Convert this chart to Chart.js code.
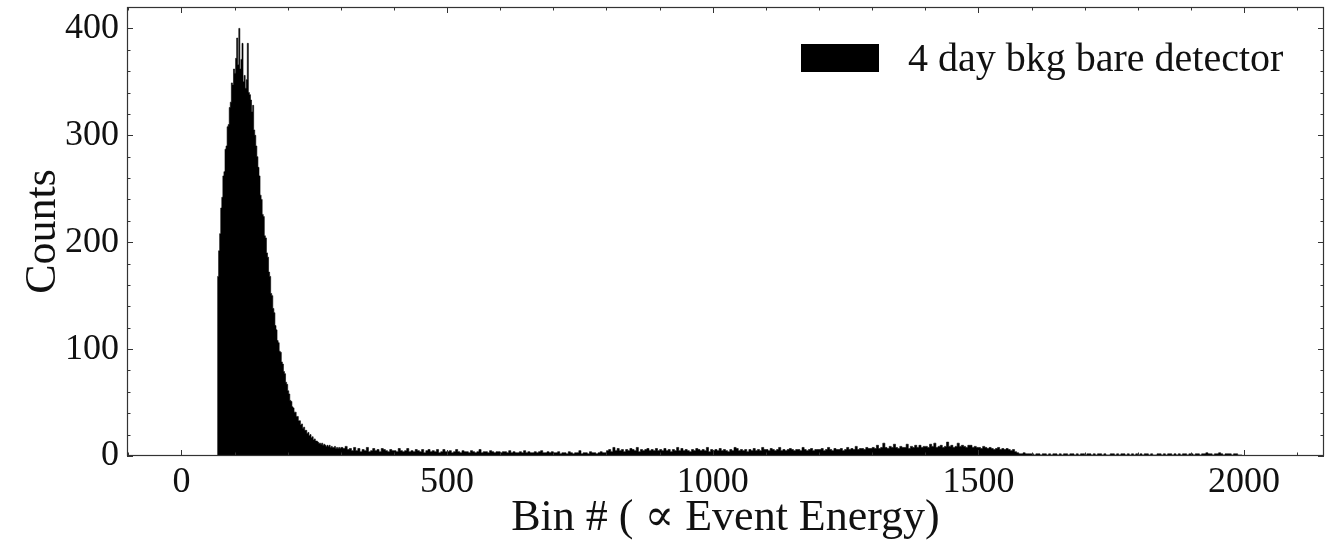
<!DOCTYPE html>
<html>
<head>
<meta charset="utf-8">
<script src="https://cdn.jsdelivr.net/npm/chart.js@4.4.1/dist/chart.umd.min.js"></script>
<style>
  html, body { margin: 0; padding: 0; background: #fff; }
  #wrap { width: 1340px; height: 547px; position: relative; }
</style>
</head>
<body>
<div id="wrap"><canvas id="spectrum"></canvas></div>
<script>
'use strict';

// ── Data ──────────────────────────────────────────────────────
const seriesLabel = '4 day bkg bare detector';
const xTitle = 'Bin # ( \u221D Event Energy)';
const yTitle = 'Counts';

// main peak: bins 68..299, 2 bins per value
const peakStart = 68;
const peakWidth = 2;
const peakCounts = [
  168, 192, 208, 232, 242, 262, 266, 287, 290, 308,
  310, 326, 331, 349, 347, 362, 358, 372, 391, 366,
  400, 362, 371, 386, 350, 356, 344, 352, 386, 340,
  338, 333, 322, 328, 305, 300, 290, 280, 270, 262,
  244, 240, 226, 224, 206, 204, 190, 186, 172, 168,
  152, 150, 138, 134, 122, 118, 108, 106, 98, 97,
  88, 86, 79, 77, 69, 67, 61, 58, 52, 51,
  46, 45, 41, 41, 37, 37, 33, 33, 29, 30,
  26, 27, 24, 24, 21, 22, 19, 20, 17, 18,
  15, 16, 14, 14, 13, 12, 12, 11, 12, 10,
  11, 10, 9, 10, 9, 10, 8, 9, 8, 8,
  9, 7, 8, 7, 8, 7,
];

// flat tail: bins 300..1999, 4 bins per value (one row = 100 bins)
const tailStart = 300;
const tailWidth = 4;
const tailCounts = [
  8, 7, 9, 6, 7, 5, 8, 5, 7, 4, 6, 5, 8, 4, 5, 7, 5, 6, 4, 7, 6, 5, 4, 6, 5,
  5, 4, 7, 5, 4, 5, 7, 4, 5, 4, 6, 5, 4, 6, 3, 5, 6, 4, 5, 4, 6, 3, 4, 6, 4,
  4, 5, 3, 4, 6, 4, 3, 5, 4, 4, 3, 5, 4, 3, 4, 6, 3, 4, 4, 3, 5, 4, 3, 4, 4,
  3, 4, 4, 3, 5, 3, 4, 3, 3, 4, 3, 5, 3, 4, 3, 3, 4, 3, 4, 5, 3, 3, 4, 3, 4,
  3, 3, 4, 2, 3, 3, 2, 4, 3, 2, 3, 3, 5, 2, 3, 3, 2, 4, 3, 3, 2, 3, 4, 3, 3,
  5, 6, 4, 8, 5, 7, 5, 6, 4, 6, 5, 7, 6, 5, 8, 4, 6, 5, 6, 7, 5, 6, 5, 7, 5,
  6, 5, 7, 5, 6, 4, 6, 5, 8, 5, 7, 5, 6, 5, 4, 6, 5, 7, 6, 5, 6, 5, 8, 4, 6,
  5, 6, 5, 7, 5, 6, 5, 4, 6, 5, 8, 7, 5, 6, 5, 6, 4, 6, 5, 7, 5, 6, 5, 8, 6,
  6, 5, 7, 6, 5, 6, 8, 5, 6, 5, 6, 7, 6, 5, 6, 6, 5, 8, 6, 5, 6, 7, 5, 6, 6,
  6, 7, 5, 6, 8, 6, 5, 7, 6, 6, 7, 5, 6, 8, 6, 7, 6, 9, 6, 7, 7, 6, 8, 7, 7,
  8, 7, 10, 7, 8, 12, 8, 7, 9, 8, 11, 8, 7, 9, 8, 8, 11, 7, 9, 8, 10, 8, 10, 8, 9,
  9, 8, 11, 9, 12, 8, 9, 10, 8, 9, 13, 9, 10, 8, 9, 12, 9, 10, 9, 8, 10, 10, 8, 9, 8,
  8, 7, 9, 8, 7, 8, 7, 6, 7, 8, 6, 7, 6, 7, 6, 5, 6, 4, 3, 2, 2, 3, 2, 2, 2,
  2, 1, 2, 2, 1, 2, 2, 1, 2, 1, 2, 2, 1, 2, 1, 2, 2, 1, 2, 2, 1, 2, 1, 2, 2,
  1, 2, 2, 1, 2, 1, 2, 2, 1, 2, 1, 1, 2, 2, 1, 2, 1, 2, 2, 1, 2, 1, 2, 1, 2,
  1, 2, 1, 2, 2, 1, 2, 1, 1, 2, 2, 1, 2, 1, 2, 2, 1, 2, 1, 2, 1, 2, 2, 1, 2,
  2, 1, 2, 2, 1, 2, 2, 3, 2, 2, 1, 2, 2, 3, 2, 1, 2, 2, 2, 1, 2, 2, 1, 1, 0,
];

const xTickValues = [0, 500, 1000, 1500, 2000];
const yTickValues = [0, 100, 200, 300, 400];
const xLimits = [-102.4, 2150.4];
const yLimits = [0, 420];

// ── Style ─────────────────────────────────────────────────────
const SERIF = "'Liberation Serif', 'DejaVu Serif', serif";
const INK = '#111';

// step histogram outline: each point is a bin's left edge
function histPoints() {
  const pts = [{ x: peakStart, y: 0 }];
  peakCounts.forEach((c, i) => pts.push({ x: peakStart + i * peakWidth, y: c }));
  tailCounts.forEach((c, i) => pts.push({ x: tailStart + i * tailWidth, y: c }));
  pts.push({ x: tailStart + tailCounts.length * tailWidth, y: 0 });
  return pts;
}

// frame + inward major/minor ticks on all four sides (matplotlib look)
const frameTicks = {
  id: 'frameTicks',
  afterDatasetsDraw(chart) {
    const { ctx, chartArea: { left, right, top, bottom }, scales: { x, y } } = chart;
    ctx.save();
    ctx.strokeStyle = '#333';
    ctx.lineWidth = 1.2;
    ctx.strokeRect(left + 0.5, top + 0.5, right - left - 1, bottom - top - 1);

    ctx.lineWidth = 1;
    ctx.beginPath();
    for (let v = -100; v <= x.max; v += 100) {
      if (v < x.min) continue;
      const len = v % 500 === 0 ? 6 : 3.5;
      const px = Math.round(x.getPixelForValue(v)) + 0.5;
      ctx.moveTo(px, bottom); ctx.lineTo(px, bottom - len);
      ctx.moveTo(px, top);    ctx.lineTo(px, top + len);
    }
    for (let v = 0; v <= y.max; v += 20) {
      const len = v % 100 === 0 ? 6 : 3.5;
      const py = Math.round(y.getPixelForValue(v)) + 0.5;
      ctx.moveTo(left, py);  ctx.lineTo(left + len, py);
      ctx.moveTo(right, py); ctx.lineTo(right - len, py);
    }
    ctx.stroke();
    ctx.restore();
  },
};

// legend in the upper right, drawn from the dataset itself
const histLegend = {
  id: 'histLegend',
  afterDraw(chart) {
    const { ctx } = chart;
    const ds = chart.data.datasets[0];
    ctx.save();
    ctx.fillStyle = ds.backgroundColor;
    ctx.fillRect(801, 44, 78, 28);
    ctx.fillStyle = INK;
    ctx.font = `40px ${SERIF}`;
    ctx.textBaseline = 'alphabetic';
    ctx.textAlign = 'left';
    ctx.fillText(ds.label, 908, 71);
    ctx.restore();
  },
};

Chart.defaults.font.family = SERIF;
Chart.defaults.color = INK;

new Chart(document.getElementById('spectrum'), {
  type: 'line',
  data: {
    datasets: [{
      label: seriesLabel,
      data: histPoints(),
      stepped: true,
      fill: 'origin',
      borderColor: '#000',
      backgroundColor: '#000',
      borderWidth: 0.6,
      pointRadius: 0,
      tension: 0,
    }],
  },
  options: {
    responsive: true,
    maintainAspectRatio: false,
    animation: false,
    events: [],
    layout: { padding: { top: 7, right: 16, left: 0, bottom: 0 } },
    scales: {
      x: {
        type: 'linear',
        min: xLimits[0],
        max: xLimits[1],
        afterBuildTicks: s => { s.ticks = xTickValues.map(v => ({ value: v })); },
        afterFit: s => { s.height = 91; s.paddingLeft = 0; s.paddingRight = 0; },
        grid: { display: false },
        border: { display: false },
        ticks: {
          font: { size: 36 }, color: INK, padding: -3, maxRotation: 0, autoSkip: false,
          callback: v => String(v),
        },
        title: {
          display: true, text: xTitle, color: INK,
          font: { size: 44, lineHeight: 1 },
          padding: { top: 0, bottom: 7 },
        },
      },
      y: {
        type: 'linear',
        min: yLimits[0],
        max: yLimits[1],
        afterBuildTicks: s => { s.ticks = yTickValues.map(v => ({ value: v })); },
        afterFit: s => { s.width = 127; s.paddingTop = 0; s.paddingBottom = 0; },
        grid: { display: false },
        border: { display: false },
        ticks: { font: { size: 36 }, color: INK, padding: 0, callback: v => String(v) },
        title: {
          display: true, text: yTitle, color: INK,
          font: { size: 44, lineHeight: 1 },
          padding: { top: 21, bottom: 0 },
        },
      },
    },
    plugins: {
      legend: { display: false },
      tooltip: { enabled: false },
    },
  },
  plugins: [frameTicks, histLegend],
});
</script>
</body>
</html>
